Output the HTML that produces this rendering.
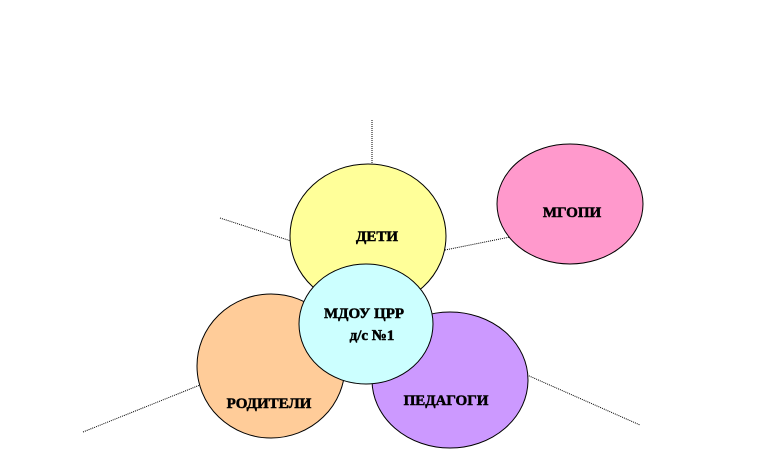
<!DOCTYPE html>
<html><head><meta charset="utf-8"><style>body{margin:0;background:#fff}</style></head><body>
<svg width="768" height="456" xmlns="http://www.w3.org/2000/svg" style="display:block">
<g stroke="#000" stroke-width="1" stroke-dasharray="1,1" fill="none">
<line x1="372" y1="120" x2="372" y2="165"/>
<line x1="220" y1="218" x2="291" y2="241"/>
<line x1="445" y1="250" x2="510" y2="237"/>
<line x1="83" y1="432" x2="200" y2="385"/>
<line x1="527" y1="375" x2="640" y2="425"/>
</g>
<g stroke="#000" stroke-width="1">
<ellipse cx="368" cy="236" rx="78" ry="72" fill="#ffff99"/>
<ellipse cx="570" cy="204" rx="73" ry="60" fill="#ff99cc"/>
<ellipse cx="271" cy="366" rx="74" ry="72" fill="#ffcc99"/>
<ellipse cx="450" cy="380" rx="78" ry="68" fill="#cc99ff"/>
<ellipse cx="366" cy="324" rx="67" ry="60" fill="#ccffff"/>
</g>
<g font-family="Liberation Serif, serif" font-weight="bold" font-size="15" fill="#000" stroke="#000" stroke-width="0.5" text-anchor="middle">
<text x="377" y="241">ДЕТИ</text>
<text x="572" y="217">МГОПИ</text>
<text x="269" y="408">РОДИТЕЛИ</text>
<text x="446" y="405">ПЕДАГОГИ</text>
<text x="364" y="318">МДОУ ЦРР</text>
<text x="372" y="340">д/с №1</text>
</g>
</svg>
</body></html>
